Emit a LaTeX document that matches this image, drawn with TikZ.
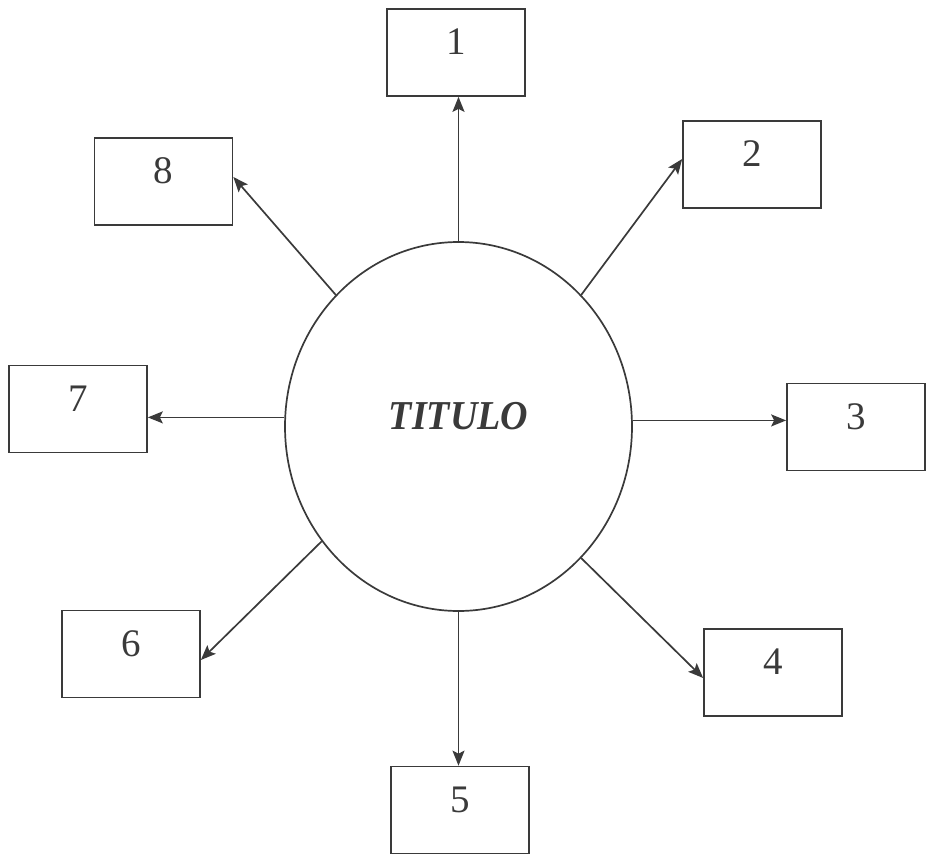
\documentclass[tikz,border=0pt]{standalone}
\usepackage{fontspec}
\setmainfont{Liberation Serif}
\usetikzlibrary{arrows.meta,calc,shapes.geometric}
\definecolor{ink}{HTML}{3A3A3A}
\tikzset{
  numbox/.style={draw=ink, line width=1.7pt, rectangle, minimum width=138pt, minimum height=87pt,
    inner sep=0pt, text height=30pt, text depth=26pt, text=ink, font=\fontsize{39}{39}\selectfont},
  hub/.style={draw=ink, line width=1.7pt, ellipse, minimum width=347pt, minimum height=369pt, inner sep=0pt,
    text height=34pt, text depth=29pt, text=ink, font=\fontsize{38}{38}\selectfont\bfseries\itshape},
  arr/.style={draw=ink, line width=1.7pt, -{Stealth[length=15pt,width=12pt,inset=3pt]}}
}
\begin{document}
\begin{tikzpicture}[x=1pt,y=-1pt]
\useasboundingbox (0,0) rectangle (926,854);
\node[hub] (c) at (458.5,426.5) {\scalebox{1}[1.08]{TITULO}};
\node[numbox] (b1) at (456,52.5) {1};
\node[numbox] (b2) at (752,164.5) {2};
\node[numbox] (b3) at (856,427) {3};
\node[numbox] (b4) at (773,672.5) {4};
\node[numbox] (b5) at (460,810) {5};
\node[numbox] (b6) at (131,654) {6};
\node[numbox] (b7) at (78,409) {7};
\node[numbox] (b8) at (163.5,181.5) {8};
\draw[arr] (c.90) -- (c.90 |- b1.south);
\draw[arr] (c.47.5) -- ($(b2.west)+(0,-5.5)$);
\draw[arr] (c.2.5) -- (c.2.5 -| b3.west);
\draw[arr] (c.-47.4) -- ($(b4.west)+(0,5.5)$);
\draw[arr] (c.-90) -- (c.-90 |- b5.north);
\draw[arr] (c.220) -- ($(b6.east)+(0,6)$);
\draw[arr] (c.177.5) -- (c.177.5 -| b7.east);
\draw[arr] (c.133) -- ($(b8.east)+(0,-4.5)$);
\end{tikzpicture}
\end{document}
